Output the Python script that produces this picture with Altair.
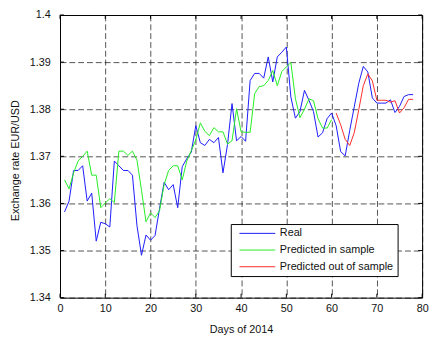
import altair as alt
import pandas as pd

# ---- data ----
days_real = list(range(1, 79))
real = [1.3582, 1.3605, 1.3670, 1.3670, 1.3680, 1.3605, 1.3622, 1.3520, 1.3560, 1.3557,
        1.3550, 1.3690, 1.3680, 1.3670, 1.3670, 1.3660, 1.3553, 1.3490, 1.3533, 1.3522,
        1.3532, 1.3590, 1.3645, 1.3629, 1.3640, 1.3591, 1.3678, 1.3695, 1.3709, 1.3765,
        1.3729, 1.3723, 1.3736, 1.3729, 1.3740, 1.3665, 1.3725, 1.3812, 1.3733, 1.3742,
        1.3732, 1.3861, 1.3876, 1.3876, 1.3866, 1.3911, 1.3858, 1.3911, 1.3921, 1.3932,
        1.3826, 1.3781, 1.3795, 1.3840, 1.3819, 1.3795, 1.3741, 1.3750, 1.3780, 1.3792,
        1.3765, 1.3710, 1.3701, 1.3755, 1.3805, 1.3855, 1.3891, 1.3879, 1.3824, 1.3813,
        1.3813, 1.3813, 1.3820, 1.3793, 1.3806, 1.3827, 1.3831, 1.3831]

days_in = list(range(1, 61))
pred_in = [1.3650, 1.3631, 1.3665, 1.3690, 1.3700, 1.3711, 1.3660, 1.3660, 1.3591, 1.3601,
           1.3610, 1.3602, 1.3711, 1.3711, 1.3702, 1.3711, 1.3692, 1.3628, 1.3561, 1.3580,
           1.3570, 1.3585, 1.3640, 1.3670, 1.3680, 1.3680, 1.3650, 1.3690, 1.3712, 1.3735,
           1.3771, 1.3753, 1.3744, 1.3761, 1.3752, 1.3752, 1.3726, 1.3733, 1.3801, 1.3752,
           1.3751, 1.3751, 1.3833, 1.3848, 1.3850, 1.3861, 1.3882, 1.3850, 1.3880, 1.3890,
           1.3899, 1.3823, 1.3782, 1.3800, 1.3822, 1.3818, 1.3780, 1.3760, 1.3760, 1.3778]

days_out = list(range(61, 79))
pred_out = [1.3792, 1.3767, 1.3736, 1.3723, 1.3750, 1.3799, 1.3850, 1.3875, 1.3860, 1.3819,
            1.3819, 1.3819, 1.3815, 1.3818, 1.3792, 1.3803, 1.3821, 1.3821]

x_ticks = [0, 10, 20, 30, 40, 50, 60, 70, 80]
y_ticks = [1.34, 1.35, 1.36, 1.37, 1.38, 1.39, 1.40]

series_names = ["Real", "Predicted in sample", "Predicted out of sample"]
series_colors = ["#1a1aff", "#22ee22", "#ff2a2a"]

df = pd.concat([
    pd.DataFrame({"day": days_real, "rate": real, "series": series_names[0], "ord": 0}),
    pd.DataFrame({"day": days_in, "rate": pred_in, "series": series_names[1], "ord": 1}),
    pd.DataFrame({"day": days_out, "rate": pred_out, "series": series_names[2], "ord": 2}),
], ignore_index=True)

W, H = 369, 288
FONT = "Liberation Sans"

xscale = alt.Scale(domain=[0, 80], nice=False, zero=False)
yscale = alt.Scale(domain=[1.34, 1.40], nice=False, zero=False)

xaxis = alt.Axis(values=x_ticks, title="Days of 2014", grid=True, gridDash=[6, 3],
                 gridColor="#000", gridOpacity=0.85, gridWidth=0.8, ticks=False, domain=False,
                 labelPadding=5, labelFontSize=11, labelFont=FONT, labelColor="#111",
                 titleFont=FONT, titleFontSize=11, titleFontWeight="normal", titleColor="#111",
                 titleY=33, titleBaseline="middle", labelFlush=False)
yaxis = alt.Axis(values=y_ticks, format=".2~f", title="Exchange rate EUR/USD", grid=True,
                 gridDash=[6, 3], gridColor="#000", gridOpacity=0.85, gridWidth=0.8,
                 ticks=False, domain=False, labelPadding=10, labelFontSize=11, labelFont=FONT,
                 labelColor="#111", titleFont=FONT, titleFontSize=11, titleFontWeight="normal",
                 titleColor="#111", titleX=-45, titleY=H / 2 + 4, titleBaseline="middle",
                 titleAngle=270, titleAlign="center", labelFlush=False)

lines = alt.Chart(df).mark_line(strokeWidth=1).encode(
    x=alt.X("day:Q", scale=xscale, axis=xaxis),
    y=alt.Y("rate:Q", scale=yscale, axis=yaxis),
    color=alt.Color("series:N", scale=alt.Scale(domain=series_names, range=series_colors),
                    legend=alt.Legend(title=None, orient="none", legendX=174, legendY=213,
                                      symbolType="M-1,0H9", symbolSize=53, symbolStrokeWidth=1,
                                      symbolOffset=3, labelOffset=32,
                                      labelFont=FONT, labelFontSize=11, labelColor="#111",
                                      fillColor="white", strokeColor="#000", padding=4,
                                      rowPadding=5)),
    order="ord:Q",
)

ytick_df = pd.DataFrame({"v": y_ticks})
xtick_df = pd.DataFrame({"v": x_ticks})
tick_l = alt.Chart(ytick_df).mark_rule(color="#000", strokeWidth=1).encode(
    y=alt.Y("v:Q", scale=yscale), x=alt.value(0), x2=alt.value(4))
tick_r = alt.Chart(ytick_df).mark_rule(color="#000", strokeWidth=1).encode(
    y=alt.Y("v:Q", scale=yscale), x=alt.value(W - 4), x2=alt.value(W))
tick_b = alt.Chart(xtick_df).mark_rule(color="#000", strokeWidth=1).encode(
    x=alt.X("v:Q", scale=xscale), y=alt.value(H), y2=alt.value(H - 4))
tick_t = alt.Chart(xtick_df).mark_rule(color="#000", strokeWidth=1).encode(
    x=alt.X("v:Q", scale=xscale), y=alt.value(0), y2=alt.value(4))

chart = alt.layer(lines, tick_l, tick_r, tick_b, tick_t).properties(
    width=W, height=H, autosize="none",
    padding={"left": 53, "top": 4, "right": 8, "bottom": 40},
    background="white",
).configure_view(stroke="#000", strokeWidth=1)

chart.save("out.html", embed_options={"renderer": "svg", "actions": False})
